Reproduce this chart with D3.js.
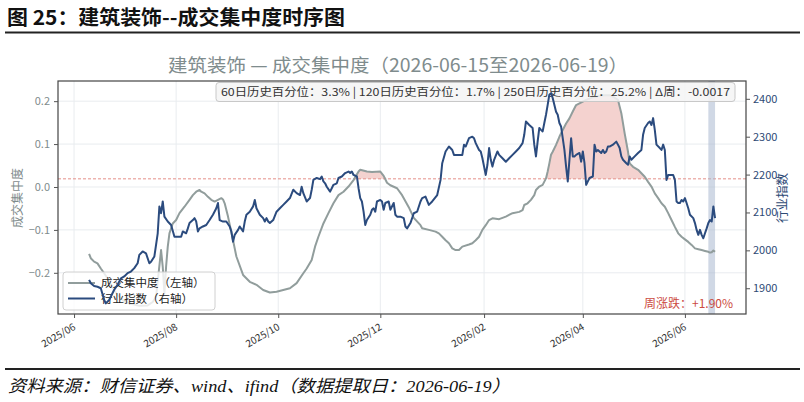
<!DOCTYPE html>
<html><head><meta charset="utf-8">
<script src="https://cdn.jsdelivr.net/npm/d3@7"></script>
<style>
html,body{margin:0;padding:0;background:#fff;}
svg{display:block;font-family:"Noto Sans CJK SC","Noto Sans",sans-serif;}
</style></head>
<body>
<svg id="c" width="804" height="402"></svg>
<script>
// ---------- data ----------
const indexDates = ["2025-06-10","2025-06-11","2025-06-13","2025-06-15","2025-06-17","2025-06-19","2025-06-20","2025-06-22","2025-06-25","2025-06-27","2025-06-29","2025-07-01","2025-07-03","2025-07-05","2025-07-07","2025-07-09","2025-07-10","2025-07-12","2025-07-14","2025-07-16","2025-07-17","2025-07-19","2025-07-21","2025-07-22","2025-07-23","2025-07-24","2025-07-25","2025-07-27","2025-07-29","2025-07-31","2025-08-02","2025-08-04","2025-08-05","2025-08-07","2025-08-08","2025-08-09","2025-08-11","2025-08-12","2025-08-13","2025-08-14","2025-08-15","2025-08-17","2025-08-19","2025-08-21","2025-08-23","2025-08-25","2025-08-26","2025-08-27","2025-08-29","2025-08-31","2025-09-02","2025-09-03","2025-09-04","2025-09-05","2025-09-07","2025-09-08","2025-09-10","2025-09-11","2025-09-12","2025-09-14","2025-09-16","2025-09-17","2025-09-18","2025-09-20","2025-09-22","2025-09-23","2025-09-24","2025-09-25","2025-09-26","2025-09-28","2025-09-30","2025-10-02","2025-10-04","2025-10-06","2025-10-08","2025-10-10","2025-10-12","2025-10-14","2025-10-15","2025-10-16","2025-10-18","2025-10-20","2025-10-21","2025-10-22","2025-10-24","2025-10-26","2025-10-27","2025-10-28","2025-10-29","2025-10-30","2025-11-01","2025-11-02","2025-11-03","2025-11-05","2025-11-06","2025-11-08","2025-11-10","2025-11-12","2025-11-13","2025-11-14","2025-11-15","2025-11-17","2025-11-18","2025-11-19","2025-11-20","2025-11-21","2025-11-22","2025-11-23","2025-11-25","2025-11-26","2025-11-27","2025-11-28","2025-11-29","2025-12-01","2025-12-02","2025-12-03","2025-12-04","2025-12-06","2025-12-07","2025-12-09","2025-12-10","2025-12-11","2025-12-13","2025-12-15","2025-12-16","2025-12-17","2025-12-19","2025-12-21","2025-12-23","2025-12-25","2025-12-26","2025-12-28","2025-12-30","2026-01-01","2026-01-04","2026-01-06","2026-01-07","2026-01-09","2026-01-11","2026-01-13","2026-01-14","2026-01-17","2026-01-19","2026-01-20","2026-01-21","2026-01-23","2026-01-25","2026-01-26","2026-01-27","2026-01-29","2026-01-30","2026-01-31","2026-02-01","2026-02-02","2026-02-03","2026-02-04","2026-02-05","2026-02-06","2026-02-07","2026-02-09","2026-02-10","2026-02-12","2026-02-14","2026-02-16","2026-02-18","2026-02-20","2026-02-22","2026-02-24","2026-02-25","2026-02-26","2026-02-28","2026-03-02","2026-03-03","2026-03-04","2026-03-05","2026-03-06","2026-03-07","2026-03-08","2026-03-09","2026-03-10","2026-03-11","2026-03-12","2026-03-13","2026-03-14","2026-03-16","2026-03-17","2026-03-18","2026-03-19","2026-03-20","2026-03-21","2026-03-22","2026-03-23","2026-03-24","2026-03-25","2026-03-26","2026-03-27","2026-03-28","2026-03-30","2026-03-31","2026-04-01","2026-04-02","2026-04-03","2026-04-04","2026-04-05","2026-04-07","2026-04-08","2026-04-09","2026-04-10","2026-04-11","2026-04-12","2026-04-13","2026-04-14","2026-04-15","2026-04-16","2026-04-17","2026-04-19","2026-04-21","2026-04-22","2026-04-23","2026-04-24","2026-04-25","2026-04-27","2026-04-28","2026-04-29","2026-04-30","2026-05-02","2026-05-04","2026-05-06","2026-05-07","2026-05-08","2026-05-10","2026-05-11","2026-05-12","2026-05-13","2026-05-14","2026-05-15","2026-05-17","2026-05-18","2026-05-19","2026-05-20","2026-05-21","2026-05-22","2026-05-25","2026-05-26","2026-05-27","2026-05-28","2026-05-29","2026-05-30","2026-05-31","2026-06-01","2026-06-02","2026-06-03","2026-06-04","2026-06-06","2026-06-07","2026-06-08","2026-06-09","2026-06-10","2026-06-11","2026-06-12","2026-06-13","2026-06-14","2026-06-15","2026-06-16","2026-06-17","2026-06-18","2026-06-19"];
const indexValues = [1922,1913,1906,1904,1900,1869,1860,1869,1896,1909,1926,1931,1940,1944,1953,1966,1988,1997,1992,1966,1970,1984,2045,2116,2098,2129,2089,2076,2067,2036,2036,2036,2050,2045,2058,2072,2080,2085,2076,2050,2058,2063,2067,2080,2094,2111,2125,2080,2076,2076,2063,2050,2023,2041,2054,2063,2050,2076,2094,2102,2116,2133,2111,2094,2085,2076,2085,2076,2072,2080,2102,2111,2120,2129,2138,2160,2151,2146,2168,2151,2129,2138,2160,2186,2191,2188,2195,2182,2177,2168,2155,2164,2173,2177,2191,2195,2204,2208,2204,2208,2199,2195,2164,2138,2129,2102,2067,2080,2094,2107,2111,2102,2129,2133,2129,2107,2125,2129,2107,2125,2094,2089,2089,2085,2063,2058,2072,2098,2102,2129,2138,2142,2120,2129,2146,2186,2230,2261,2274,2265,2252,2252,2252,2279,2274,2296,2300,2296,2283,2265,2261,2243,2221,2199,2226,2270,2239,2221,2239,2261,2252,2243,2234,2243,2252,2261,2270,2283,2305,2340,2331,2323,2279,2248,2287,2323,2318,2314,2336,2358,2384,2411,2415,2402,2366,2358,2336,2327,2296,2265,2221,2182,2239,2296,2248,2248,2252,2257,2234,2261,2230,2173,2182,2191,2195,2279,2261,2265,2261,2257,2265,2257,2261,2274,2274,2279,2287,2279,2270,2248,2239,2230,2226,2248,2239,2248,2257,2265,2305,2323,2336,2340,2331,2349,2318,2279,2270,2265,2279,2265,2186,2199,2199,2186,2129,2125,2125,2133,2129,2138,2125,2111,2094,2085,2072,2054,2041,2054,2041,2032,2045,2058,2072,2080,2076,2116,2085];

const concDates = ["2025-06-10","2025-06-11","2025-06-13","2025-06-15","2025-06-17","2025-06-19","2025-06-21","2025-06-23","2025-06-25","2025-06-27","2025-06-29","2025-07-01","2025-07-05","2025-07-10","2025-07-15","2025-07-18","2025-07-20","2025-07-23","2025-07-24","2025-07-25","2025-07-26","2025-07-27","2025-07-28","2025-07-30","2025-08-01","2025-08-03","2025-08-06","2025-08-09","2025-08-11","2025-08-13","2025-08-15","2025-08-16","2025-08-18","2025-08-20","2025-08-22","2025-08-24","2025-08-26","2025-08-28","2025-08-29","2025-08-30","2025-09-01","2025-09-04","2025-09-06","2025-09-10","2025-09-14","2025-09-18","2025-09-22","2025-09-26","2025-09-30","2025-10-08","2025-10-12","2025-10-16","2025-10-18","2025-10-21","2025-10-23","2025-10-25","2025-10-28","2025-10-31","2025-11-03","2025-11-06","2025-11-09","2025-11-12","2025-11-15","2025-11-18","2025-11-19","2025-11-23","2025-11-26","2025-12-01","2025-12-03","2025-12-05","2025-12-07","2025-12-11","2025-12-14","2025-12-18","2025-12-21","2025-12-25","2025-12-26","2025-12-30","2026-01-03","2026-01-05","2026-01-07","2026-01-09","2026-01-11","2026-01-13","2026-01-15","2026-01-17","2026-01-19","2026-01-23","2026-01-25","2026-01-27","2026-01-29","2026-01-31","2026-02-02","2026-02-04","2026-02-06","2026-02-10","2026-02-14","2026-02-18","2026-02-22","2026-02-24","2026-02-25","2026-02-27","2026-03-01","2026-03-03","2026-03-04","2026-03-06","2026-03-08","2026-03-10","2026-03-11","2026-03-12","2026-03-13","2026-03-14","2026-03-16","2026-03-18","2026-03-20","2026-03-22","2026-03-24","2026-03-26","2026-03-28","2026-03-30","2026-04-01","2026-04-03","2026-04-07","2026-04-12","2026-04-17","2026-04-20","2026-04-22","2026-04-24","2026-04-26","2026-04-28","2026-04-29","2026-05-01","2026-05-04","2026-05-06","2026-05-08","2026-05-10","2026-05-12","2026-05-14","2026-05-16","2026-05-18","2026-05-20","2026-05-22","2026-05-24","2026-05-26","2026-05-28","2026-05-30","2026-06-01","2026-06-03","2026-06-05","2026-06-07","2026-06-09","2026-06-11","2026-06-13","2026-06-15","2026-06-16","2026-06-17","2026-06-18","2026-06-19"];
const concValues = [-0.156,-0.166,-0.174,-0.178,-0.190,-0.201,-0.213,-0.228,-0.240,-0.252,-0.259,-0.267,-0.272,-0.277,-0.276,-0.268,-0.256,-0.147,-0.186,-0.248,-0.186,-0.139,-0.108,-0.085,-0.077,-0.061,-0.046,-0.030,-0.019,-0.011,-0.007,-0.011,-0.015,-0.023,-0.030,-0.034,-0.030,-0.026,-0.029,-0.038,-0.069,-0.124,-0.162,-0.205,-0.221,-0.228,-0.240,-0.246,-0.244,-0.236,-0.224,-0.201,-0.190,-0.170,-0.139,-0.116,-0.085,-0.061,-0.038,-0.019,-0.011,0.001,0.016,0.036,0.040,0.036,0.035,0.036,0.026,0.010,0.004,-0.003,-0.019,-0.047,-0.072,-0.089,-0.096,-0.100,-0.104,-0.108,-0.116,-0.124,-0.131,-0.143,-0.147,-0.147,-0.139,-0.134,-0.131,-0.124,-0.116,-0.100,-0.089,-0.077,-0.073,-0.075,-0.069,-0.061,-0.058,-0.054,-0.042,-0.038,-0.030,-0.019,-0.007,0.001,0.005,0.020,0.036,0.055,0.075,0.082,0.098,0.117,0.133,0.148,0.160,0.176,0.191,0.195,0.199,0.203,0.209,0.214,0.214,0.208,0.203,0.172,0.125,0.082,0.055,0.047,0.040,0.032,0.024,0.012,0.001,-0.015,-0.026,-0.038,-0.046,-0.061,-0.077,-0.093,-0.108,-0.116,-0.122,-0.128,-0.135,-0.143,-0.145,-0.147,-0.149,-0.151,-0.153,-0.152,-0.148,-0.151];

const threshold = 0.019;
const xTickLabels = ["2025/06","2025/08","2025/10","2025/12","2026/02","2026/04","2026/06"];
const leftTicks = [-0.2,-0.1,0.0,0.1,0.2];
const rightTicks = [1900,2000,2100,2200,2300,2400];
const weekStart = "2026-06-15", weekEnd = "2026-06-19";
const infoLabels = ["60日历史百分位","120日历史百分位","250日历史百分位","Δ周"];
const infoValues = ["3.3%","1.7%","25.2%","-0.0017"];
const weekChange = "+1.90%";
const headerText = "图 25：建筑装饰--成交集中度时序图";
const titleText = "建筑装饰 — 成交集中度（2026-06-15至2026-06-19）";
const sourceText = "资料来源：财信证券、wind、ifind（数据提取日：2026-06-19）";
const legendLabels = ["成交集中度（左轴）","行业指数（右轴）"];

// ---------- layout ----------
const svg = d3.select("#c");
const L = 58, R = 746, T = 81, B = 314;
const parse = d3.timeParse("%Y-%m-%d");
const blueC = "#2b4b7e", greyC = "#919d9c";

const x = d3.scaleTime().domain([new Date(2025,4,22,10), new Date(2026,6,7,12)]).range([L, R]);
const yL = d3.scaleLinear().domain([-0.296, 0.247]).range([B, T]);
const yR = d3.scaleLinear().domain([1832, 2447]).range([B, T]);

const conc = concDates.map((d,i)=>({d:parse(d), v:concValues[i]}));
const idx = indexDates.map((d,i)=>({d:parse(d), v:indexValues[i]}));
const xTickDates = xTickLabels.map(s=>d3.timeParse("%Y/%m")(s));

// header
svg.append("text").attr("x",7).attr("y",25).attr("font-size",20).attr("font-weight","bold")
  .attr("fill","#111").attr("textLength",338).attr("lengthAdjust","spacingAndGlyphs").text(headerText);
svg.append("line").attr("x1",5).attr("x2",800).attr("y1",32.5).attr("y2",32.5).attr("stroke","#222").attr("stroke-width",2);
// footer
svg.append("line").attr("x1",5).attr("x2",800).attr("y1",369).attr("y2",369).attr("stroke","#222").attr("stroke-width",2);
svg.append("text").attr("x",8).attr("y",392).attr("font-size",17).attr("font-style","italic")
  .attr("fill","#111").attr("font-family","'Liberation Serif','Noto Sans CJK SC',serif")
  .attr("textLength",502).attr("lengthAdjust","spacingAndGlyphs").text(sourceText);

// title
svg.append("text").attr("x",168).attr("y",72).attr("font-size",18.5)
  .attr("fill","#7f8c8d").attr("textLength",460).attr("lengthAdjust","spacingAndGlyphs").text(titleText);

// grid
const g = svg.append("g");
g.selectAll(".vg").data(xTickDates).enter().append("line")
  .attr("x1",d=>x(d)).attr("x2",d=>x(d)).attr("y1",T).attr("y2",B).attr("stroke","#e9ecef").attr("stroke-width",1);
g.selectAll(".hg").data(leftTicks).enter().append("line")
  .attr("x1",L).attr("x2",R).attr("y1",d=>yL(d)).attr("y2",d=>yL(d)).attr("stroke","#e9ecef").attr("stroke-width",1);

svg.append("clipPath").attr("id","pc").append("rect").attr("x",L).attr("y",T).attr("width",R-L).attr("height",B-T);
const pg = svg.append("g").attr("clip-path","url(#pc)");

// fill above threshold
const area = d3.area().x(d=>x(d.d)).y0(yL(threshold)).y1(d=>yL(Math.max(d.v,threshold)));
pg.append("path").datum(conc).attr("d",area).attr("fill","#f4d2cf").attr("stroke","none");

// threshold line
pg.append("line").attr("x1",L).attr("x2",R).attr("y1",yL(threshold)).attr("y2",yL(threshold))
  .attr("stroke","#e58f88").attr("stroke-width",1).attr("stroke-dasharray","3,2");

// week band
pg.append("rect").attr("x",x(parse(weekStart))).attr("width",x(parse(weekEnd))-x(parse(weekStart)))
  .attr("y",T).attr("height",B-T).attr("fill","#a9b8cf").attr("opacity",0.55);

// grey line
const lineL = d3.line().x(d=>x(d.d)).y(d=>yL(d.v));
pg.append("path").datum(conc).attr("d",lineL).attr("fill","none").attr("stroke",greyC).attr("stroke-width",2).attr("stroke-linejoin","round");

// info box
const infoStr = infoLabels.map((l,i)=>l+"："+infoValues[i]).join("  |  ");
const ib = svg.append("g");
ib.append("rect").attr("x",216).attr("y",82.5).attr("width",519).attr("height",19).attr("rx",3)
  .attr("fill","#f5f5f5").attr("fill-opacity",0.85).attr("stroke","#c8c8c8").attr("stroke-width",1);
ib.append("text").attr("x",221).attr("y",96).attr("font-size",11).attr("fill","#333")
  .attr("textLength",509).attr("lengthAdjust","spacingAndGlyphs").text(infoStr);

// legend
const lg = svg.append("g");
lg.append("rect").attr("x",63).attr("y",272).attr("width",152).attr("height",38).attr("rx",3)
  .attr("fill","#fff").attr("fill-opacity",0.8).attr("stroke","#d0d0d0");
[greyC, blueC].forEach((c,i)=>{
  const yy = 283 + i*15.5;
  lg.append("line").attr("x1",68).attr("x2",95).attr("y1",yy).attr("y2",yy).attr("stroke",c).attr("stroke-width",2);
  lg.append("text").attr("x",101).attr("y",yy+4).attr("font-size",11.5).attr("fill","#222").text(legendLabels[i]);
});

// blue line (right axis, drawn on top)
const lineR = d3.line().x(d=>x(d.d)).y(d=>yR(d.v));
svg.append("g").attr("clip-path","url(#pc)").append("path").datum(idx).attr("d",lineR)
  .attr("fill","none").attr("stroke",blueC).attr("stroke-width",2).attr("stroke-linejoin","round");

// week change text
svg.append("text").attr("x",733).attr("y",308).attr("text-anchor","end").attr("font-size",12)
  .attr("fill","#cc4b42").text("周涨跌："+weekChange);

// frame
svg.append("rect").attr("x",L).attr("y",T).attr("width",R-L).attr("height",B-T)
  .attr("fill","none").attr("stroke","#444").attr("stroke-width",1.2);

// axes
const axL = d3.axisLeft(yL).tickValues(leftTicks).tickSize(4).tickPadding(4).tickFormat(d3.format(".1f"));
const gL = svg.append("g").attr("transform",`translate(${L},0)`).call(axL);
gL.select(".domain").remove();
gL.selectAll("line").attr("stroke","#555");
gL.selectAll("text").attr("fill","#7f8c8d").attr("font-size",11).attr("font-family","'Noto Sans CJK SC',sans-serif");

const axR = d3.axisRight(yR).tickValues(rightTicks).tickSize(4).tickPadding(3).tickFormat(d3.format("d"));
const gR = svg.append("g").attr("transform",`translate(${R},0)`).call(axR);
gR.select(".domain").remove();
gR.selectAll("line").attr("stroke","#555");
gR.selectAll("text").attr("fill","#2e4a75").attr("font-size",11).attr("font-family","'Noto Sans CJK SC',sans-serif");

const axB = d3.axisBottom(x).tickValues(xTickDates).tickSize(4).tickFormat((d,i)=>xTickLabels[i]);
const gB = svg.append("g").attr("transform",`translate(0,${B})`).call(axB);
gB.select(".domain").remove();
gB.selectAll("line").attr("stroke","#555");
gB.selectAll("text").attr("fill","#333").attr("font-size",10).attr("font-family","'Noto Sans CJK SC',sans-serif")
  .attr("text-anchor","end").attr("dy","0.35em").attr("y",0)
  .attr("transform","translate(0,12) rotate(-30)");

// axis titles
svg.append("text").attr("transform","translate(22,198) rotate(-90)").attr("text-anchor","middle")
  .attr("font-size",12).attr("fill","#7f8c8d").text("成交集中度");
svg.append("text").attr("transform","translate(787,198) rotate(-90)").attr("text-anchor","middle")
  .attr("font-size",12.5).attr("fill","#2e4a75").text("行业指数");
</script>
</body></html>
